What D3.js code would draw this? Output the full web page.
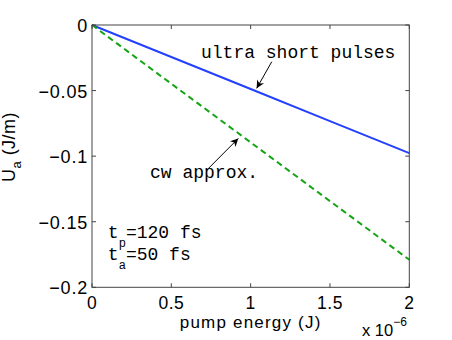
<!doctype html>
<html>
<head>
<meta charset="utf-8"/>
<title>U_a vs pump energy</title>
<script src="https://d3js.org/d3.v7.min.js"></script>
<style>
body { margin: 0; background: #fff; }
text { font-family: "Liberation Sans", Arial, sans-serif; }
.mono { font-family: "Liberation Mono", "Courier New", monospace; }
</style>
</head>
<body>
<script>
// pump energy in units of 1e-6 J
var energy = [0, 0.5, 1, 1.5, 2];
var ultraShort = [0, -0.0244, -0.0488, -0.0733, -0.0977];
var cwApprox = [0, -0.0448, -0.0895, -0.1343, -0.179];
var xTicks = [0, 0.5, 1, 1.5, 2];
var xTickLabels = ["0", "0.5", "1", "1.5", "2"];
var yTicks = [0, -0.05, -0.1, -0.15, -0.2];
var yTickLabels = ["0", "\u22120.05", "\u22120.1", "\u22120.15", "\u22120.2"];

var W = 452, H = 340;
var axL = 92, axR = 409.3, axT = 25, axB = 287.3;

var svg = d3.select("body").append("svg")
  .attr("width", W).attr("height", H);

var x = d3.scaleLinear().domain([0, 2]).range([axL, axR]);
var y = d3.scaleLinear().domain([-0.2, 0]).range([axB, axT]);

svg.append("defs").append("marker")
  .attr("id", "head")
  .attr("viewBox", "0 0 10 10")
  .attr("refX", 10).attr("refY", 5)
  .attr("markerWidth", 10).attr("markerHeight", 8)
  .attr("markerUnits", "userSpaceOnUse")
  .attr("orient", "auto")
  .append("path").attr("d", "M0,0 L10,5 L0,10 L3,5 Z").attr("fill", "#000");

// lines
var line = d3.line().x(function(d, i) { return x(energy[i]); }).y(function(d) { return y(d); });

svg.append("path").datum(ultraShort)
  .attr("d", line).attr("fill", "none")
  .attr("stroke", "#2440ff").attr("stroke-width", 2);

svg.append("path").datum(cwApprox)
  .attr("d", line).attr("fill", "none")
  .attr("stroke", "#12a412").attr("stroke-width", 2)
  .attr("stroke-dasharray", "6,4");

// axes box
var axisCol = "#444";
svg.append("rect")
  .attr("x", axL).attr("y", axT)
  .attr("width", axR - axL).attr("height", axB - axT)
  .attr("fill", "none").attr("stroke", axisCol).attr("stroke-width", 1);

var tl = 4;
xTicks.forEach(function(t, i) {
  svg.append("line").attr("x1", x(t)).attr("x2", x(t)).attr("y1", axB).attr("y2", axB - tl).attr("stroke", axisCol);
  svg.append("line").attr("x1", x(t)).attr("x2", x(t)).attr("y1", axT).attr("y2", axT + tl).attr("stroke", axisCol);
  svg.append("text").attr("x", x(t)).attr("y", 309)
    .attr("text-anchor", "middle").attr("font-size", 17.5)
    .attr("letter-spacing", 0.5)
    .text(xTickLabels[i]);
});
yTicks.forEach(function(t, i) {
  svg.append("line").attr("x1", axL).attr("x2", axL + tl).attr("y1", y(t)).attr("y2", y(t)).attr("stroke", axisCol);
  svg.append("line").attr("x1", axR).attr("x2", axR - tl).attr("y1", y(t)).attr("y2", y(t)).attr("stroke", axisCol);
  svg.append("text").attr("x", 88).attr("y", y(t) + 7)
    .attr("text-anchor", "end").attr("font-size", 18)
    .attr("letter-spacing", 0.8)
    .text(yTickLabels[i]);
});

// axis labels
svg.append("text").attr("x", (axL + axR) / 2).attr("y", 328)
  .attr("text-anchor", "middle").attr("font-size", 17)
  .attr("letter-spacing", 1.2)
  .text("pump energy (J)");

var mult = svg.append("text").attr("x", 362).attr("y", 336).attr("font-size", 16.5);
mult.append("tspan").text("x 10");
mult.append("tspan").attr("dy", -10).attr("font-size", 12).text("\u22126");

var yl = svg.append("text")
  .attr("transform", "translate(15,147) rotate(-90)")
  .attr("text-anchor", "middle").attr("font-size", 18)
  .attr("letter-spacing", 0.5);
yl.append("tspan").text("U");
yl.append("tspan").attr("dy", 6).attr("font-size", 13).text("a");
yl.append("tspan").attr("dy", -6).text(" (J/m)");

// annotations (positions in data units)
function arrow(x0, y0, x1, y1) {
  svg.append("line")
    .attr("x1", x(x0)).attr("y1", y(y0)).attr("x2", x(x1)).attr("y2", y(y1))
    .attr("stroke", "#000").attr("stroke-width", 1)
    .attr("marker-end", "url(#head)");
}

svg.append("text").attr("class", "mono").attr("x", x(0.687)).attr("y", y(-0.0252))
  .attr("font-size", 18).text("ultra short pulses");
arrow(1.133, -0.028, 1.038, -0.0483);

svg.append("text").attr("class", "mono").attr("x", x(0.366)).attr("y", y(-0.1168))
  .attr("font-size", 18).text("cw approx.");
arrow(0.723, -0.1107, 0.922, -0.0865);

var t1 = svg.append("text").attr("class", "mono").attr("x", x(0.1)).attr("y", y(-0.1626)).attr("font-size", 18);
t1.append("tspan").text("t");
t1.append("tspan").attr("dy", 9).attr("font-size", 12).text("p");
t1.append("tspan").attr("dy", -9).text("=120 fs");

var t2 = svg.append("text").attr("class", "mono").attr("x", x(0.1)).attr("y", y(-0.1794)).attr("font-size", 18);
t2.append("tspan").text("t");
t2.append("tspan").attr("dy", 9).attr("font-size", 12).text("a");
t2.append("tspan").attr("dy", -9).text("=50 fs");
</script>
</body>
</html>
